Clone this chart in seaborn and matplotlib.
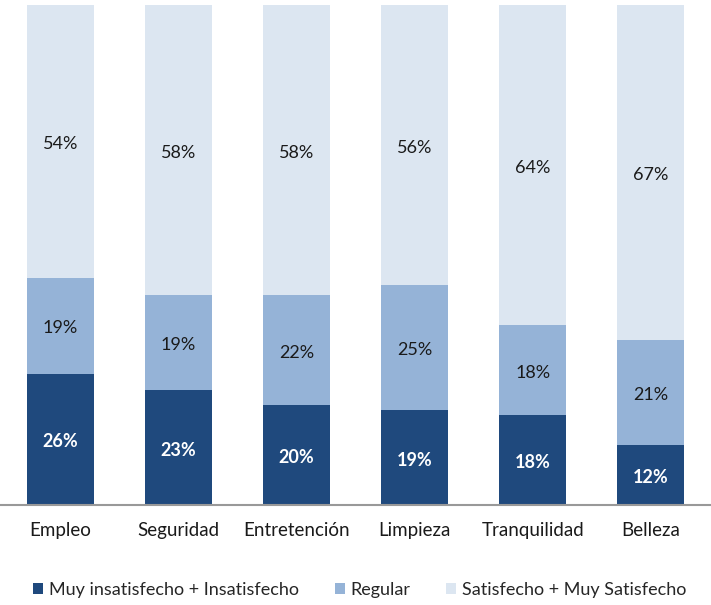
import matplotlib
matplotlib.use("Agg")
import matplotlib.pyplot as plt
import seaborn as sns
import numpy as np

categories = ["Empleo", "Seguridad", "Entretención", "Limpieza", "Tranquilidad", "Belleza"]
insatisfecho = [26, 23, 20, 19, 18, 12]
regular = [19, 19, 22, 25, 18, 21]
satisfecho = [54, 58, 58, 56, 64, 67]
series_names = ["Muy insatisfecho + Insatisfecho", "Regular", "Satisfecho + Muy Satisfecho"]
colors = ["#1F497D", "#95B3D7", "#DCE6F1"]

sns.set_theme(style="white")
plt.rcParams["font.family"] = ["Lato", "DejaVu Sans"]

fig = plt.figure(figsize=(7.11, 6.05), dpi=100)
ax = fig.add_axes([0.0, 0.165, 1.0, 0.835])

series = [insatisfecho, regular, satisfecho]
totals = np.sum(series, axis=0)
bottom = np.zeros(len(categories))
for name, vals, col in zip(series_names, series, colors):
    pct = np.array(vals) / totals * 100
    ax.bar(categories, pct, bottom=bottom, width=0.57, color=col, label=name, edgecolor="none")
    for i, (b, v) in enumerate(zip(bottom, pct)):
        first = col == colors[0]
        ax.text(i, b + v / 2 - 0.5, f"{vals[i]}%", ha="center", va="center",
                fontsize=13, color="white" if first else "#1a1a1a",
                fontweight="bold" if first else "normal")
    bottom = bottom + pct

ax.set_xlim(-0.51, 5.51)
ax.set_ylim(0, 101)
ax.set_yticks([])
for s in ["top", "right", "left"]:
    ax.spines[s].set_visible(False)
ax.spines["bottom"].set_color("#999999")
ax.spines["bottom"].set_linewidth(1.5)
ax.tick_params(axis="x", length=0, labelsize=13.5, pad=12, colors="#1a1a1a")

handles, labels = ax.get_legend_handles_labels()
fig.legend(handles, labels, loc="center", bbox_to_anchor=(0.506, 0.025), ncol=3,
           frameon=False, fontsize=13, handlelength=0.55, handleheight=0.55,
           handletextpad=0.3, columnspacing=2.0)

fig.savefig("out.png", dpi=100)
